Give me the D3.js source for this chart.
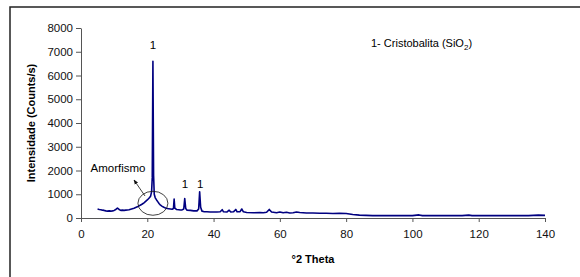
<!DOCTYPE html>
<html>
<head>
<meta charset="utf-8">
<script src="https://cdn.jsdelivr.net/npm/d3@7"></script>
<style>
  html, body { margin: 0; background: #fff; overflow: hidden; }
  svg { display: block; }
  text { font-family: "Liberation Sans", Arial, sans-serif; }
</style>
</head>
<body>
<div id="chart"></div>
<script>
var width = 580;
var height = 277;
var margin = {top:28,left:81,right:16,bottom:59};

// XRD pattern
var twoTheta = [5,5.5,6,6.5,7,7.5,8,8.5,9,9.5,10,10.5,11,11.5,12,12.5,13,13.5,14,14.5,15,15.5,16,16.5,17,17.5,18,18.5,19,19.5,20,20.5,21,21.3,21.5,21.7,21.9,22.1,22.4,22.8,23.2,23.6,24,24.5,25,25.5,26,26.5,27,27.5,27.9,28.1,28.3,28.8,29.5,30,30.5,31,31.3,31.6,32,33,34,35,35.5,35.8,36.1,36.5,37,38,39,40,41,42,42.6,43,44,44.7,45.2,46,46.7,47.1,48,48.5,49,50,52,54,55,56,56.8,57.5,59,60,61,62,63,64,65,66,67,68,70,72,74,76,78,80,82,84,86,88,90,95,100,102,103,110,115,117,118,125,130,135,138,140];
var counts = [380,360,350,330,320,300,290,300,290,300,320,360,420,360,320,330,320,330,340,350,370,390,410,440,470,510,550,590,640,700,760,830,920,1100,1700,6600,1800,1000,850,760,680,600,540,490,450,420,400,390,380,370,400,800,420,360,350,340,340,380,820,400,330,320,300,300,380,1100,450,290,270,260,250,250,250,260,350,260,250,330,250,260,360,260,270,380,260,230,220,230,220,240,360,250,220,250,220,240,210,220,250,230,220,210,210,200,200,190,200,190,150,120,110,100,100,100,100,130,100,100,100,120,100,100,100,100,120,110];

var xTicks = [0,20,40,60,80,100,120,140];
var yTicks = [0,1000,2000,3000,4000,5000,6000,7000,8000];

// peak markers: [2theta, label y value]
var peakLabels = [[21.7,7100],[31.4,1250],[36,1250]];

var svg = d3.select("#chart")
  .append("svg")
  .attr("width",width)
  .attr("height",height);

// outer frame
svg.append("rect")
  .attr("x",10).attr("y",7)
  .attr("width",600).attr("height",300)
  .attr("fill","none")
  .attr("stroke","#222")
  .attr("stroke-width",1.5);

var xScale = d3.scaleLinear()
  .domain([0,140])
  .range([margin.left,width-margin.right-19]);

var yScale = d3.scaleLinear()
  .domain([0,8000])
  .range([height-margin.bottom,margin.top]);

var xAxis = svg.append("g")
  .attr("transform",`translate(0,${yScale(0)})`)
  .call(d3.axisBottom(xScale).tickValues(xTicks).tickSize(4).tickSizeOuter(0).tickPadding(8));

var yAxis = svg.append("g")
  .attr("transform",`translate(${margin.left},0)`)
  .call(d3.axisLeft(yScale).tickValues(yTicks).tickFormat(d3.format("d")).tickSize(5).tickSizeOuter(0).tickPadding(3));

svg.selectAll(".domain, .tick line").attr("stroke","#555");
svg.selectAll(".tick text")
  .attr("font-family","Liberation Sans, Arial, sans-serif")
  .attr("font-size","11.5px")
  .attr("fill","#111");

var line = d3.line()
  .x(function(d,i) {return xScale(twoTheta[i]);})
  .y(function(d) {return yScale(d);});

svg.append("path")
  .datum(counts)
  .attr("d",line)
  .attr("fill","none")
  .attr("stroke","#000080")
  .attr("stroke-width",1.6)
  .attr("stroke-linejoin","round");

svg.selectAll(".peak")
  .data(peakLabels)
  .enter()
  .append("text")
    .attr("class","peak")
    .attr("x",function(d) {return xScale(d[0]);})
    .attr("y",function(d) {return yScale(d[1]);})
    .attr("text-anchor","middle")
    .style("font-size","11.5px")
    .text("1");

// legend note
var note = svg.append("text")
  .attr("x",371)
  .attr("y",47)
  .style("font-size","11px");
note.append("tspan").text("1- Cristobalita (SiO");
note.append("tspan").attr("font-size","8px").attr("dy",3).text("2");
note.append("tspan").attr("dy",-3).text(")");

// amorphous hump annotation
svg.append("ellipse")
  .attr("cx",xScale(21.7)).attr("cy",yScale(620))
  .attr("rx",15).attr("ry",12)
  .attr("fill","none")
  .attr("stroke","#111")
  .attr("stroke-width",0.8);

svg.append("defs").append("marker")
  .attr("id","arrow")
  .attr("viewBox","0 0 10 10")
  .attr("refX",9).attr("refY",5)
  .attr("markerWidth",6).attr("markerHeight",6)
  .attr("orient","auto")
  .append("path")
    .attr("d","M0,1 L10,5 L0,9 z")
    .attr("fill","#111");

svg.append("line")
  .attr("x1",145).attr("y1",196)
  .attr("x2",134).attr("y2",180)
  .attr("stroke","#111")
  .attr("stroke-width",0.8)
  .attr("marker-end","url(#arrow)");

svg.append("text")
  .attr("x",118)
  .attr("y",172)
  .attr("text-anchor","middle")
  .style("font-size","11.5px")
  .text("Amorfismo");

// axis titles
svg.append("text")
  .attr("x",xScale(70))
  .attr("y",263)
  .attr("text-anchor","middle")
  .style("font-size","11px")
  .style("font-weight","bold")
  .text("°2 Theta");

svg.append("text")
  .attr("transform","translate(35,"+((margin.top+height-margin.bottom)/2)+") rotate(-90)")
  .attr("text-anchor","middle")
  .style("font-size","11px")
  .style("font-weight","bold")
  .text("Intensidade (Counts/s)");
</script>
</body>
</html>
